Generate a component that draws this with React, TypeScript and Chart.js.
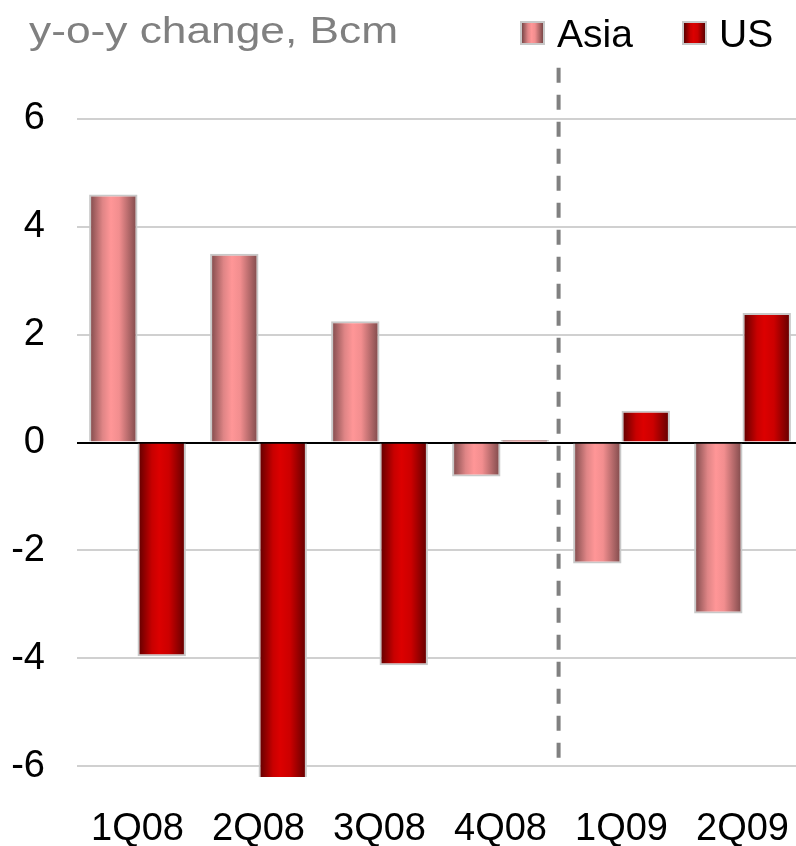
import React, { useEffect, useRef } from "react";
import { Chart, registerables } from "chart.js";

Chart.register(...registerables);

const categories = ["1Q08", "2Q08", "3Q08", "4Q08", "1Q09", "2Q09"];
const asiaValues = [4.6, 3.5, 2.25, -0.63, -2.24, -3.17];
const usValues = [-3.96, -6.4, -4.13, 0.05, 0.59, 2.4];
const yTicks = [-6, -4, -2, 0, 2, 4, 6];
const Y_MIN = -6.2;
const Y_MAX = 7;
const DIVIDER_AT = 3.48; // between 4Q08 and 1Q09
const DIVIDER_FROM = 6.95;
const DIVIDER_TO = -5.87;

const FONT = "'Liberation Sans', Arial, Helvetica, sans-serif";

const ASIA_STOPS: [number, string][] = [
  [0, "#7a4748"],
  [0.28, "#df8586"],
  [0.45, "#ff9697"],
  [0.62, "#f28e8f"],
  [1, "#7a4748"],
];
const US_STOPS: [number, string][] = [
  [0, "#5a0000"],
  [0.3, "#c80000"],
  [0.45, "#dc0000"],
  [0.65, "#cc0000"],
  [1, "#5e0000"],
];

const cssGradient = (stops: [number, string][]) =>
  `linear-gradient(to right, ${stops.map(([p, c]) => `${c} ${p * 100}%`).join(", ")})`;

const gradientPlugin = {
  id: "barGradient",
  beforeDatasetsDraw(chart: any) {
    const ctx = chart.ctx;
    chart.data.datasets.forEach((ds: any, di: number) => {
      const meta = chart.getDatasetMeta(di);
      const stops = di === 0 ? ASIA_STOPS : US_STOPS;
      meta.data.forEach((el: any) => {
        const left = el.x - el.width / 2;
        const g = ctx.createLinearGradient(left, 0, left + el.width, 0);
        stops.forEach(([p, c]) => g.addColorStop(p, c));
        el.options = { ...el.options, backgroundColor: g };
      });
    });
  },
};

const dividerPlugin = {
  id: "divider",
  afterDatasetsDraw(chart: any) {
    const { ctx, scales } = chart;
    const x = scales.x.getPixelForValue(DIVIDER_AT);
    const y1 = scales.y.getPixelForValue(DIVIDER_FROM);
    const y2 = scales.y.getPixelForValue(DIVIDER_TO);
    ctx.save();
    ctx.strokeStyle = "#808080";
    ctx.lineWidth = 4;
    ctx.setLineDash([15, 12]);
    ctx.beginPath();
    ctx.moveTo(x, y1);
    ctx.lineTo(x, y2);
    ctx.stroke();
    ctx.restore();
  },
};

export default function App() {
  const ref = useRef<HTMLCanvasElement>(null);

  useEffect(() => {
    if (!ref.current) return;
    const chart = new Chart(ref.current, {
      type: "bar",
      data: {
        labels: categories,
        datasets: [
          {
            label: "Asia",
            data: asiaValues,
            backgroundColor: "#ff9697",
            borderColor: "#c8c8c8",
            borderWidth: 2,
            clip: 0,
          },
          {
            label: "US",
            data: usValues,
            backgroundColor: "#dc0000",
            borderColor: "#c8c8c8",
            borderWidth: 2,
            clip: 0,
          },
        ],
      },
      options: {
        responsive: false,
        animation: false,
        layout: { padding: { top: 65, right: 12, left: 0, bottom: 0 } },
        datasets: {
          bar: { categoryPercentage: 0.8, barPercentage: 1 },
        },
        plugins: {
          legend: { display: false },
          title: { display: false },
          tooltip: { enabled: false },
        },
        scales: {
          x: {
            grid: { display: false, drawTicks: false },
            border: { display: false },
            ticks: {
              color: "#000",
              font: { family: FONT, size: 38 },
              padding: 30,
              maxRotation: 0,
              autoSkip: false,
            },
            afterFit: (s: any) => {
              s.height = 69;
            },
          },
          y: {
            min: Y_MIN,
            max: Y_MAX,
            afterBuildTicks: (s: any) => {
              s.ticks = yTicks.map((v) => ({ value: v }));
            },
            afterFit: (s: any) => {
              s.width = 77;
            },
            grid: {
              drawTicks: false,
              color: (c: any) => (c.tick && c.tick.value === 0 ? "#000000" : "#d0d0d0"),
              lineWidth: 2,
            },
            border: { display: false },
            ticks: {
              color: "#000",
              font: { family: FONT, size: 38 },
              padding: 32,
            },
          },
        },
      },
      plugins: [gradientPlugin, dividerPlugin],
    });
    return () => chart.destroy();
  }, []);

  const swatch = (stops: [number, string][], left: number) => (
    <div
      style={{
        position: "absolute",
        left,
        top: 21,
        width: 21,
        height: 20,
        border: "2px solid #c8c8c8",
        background: cssGradient(stops),
      }}
    />
  );

  return (
    <div
      style={{
        position: "fixed",
        left: 0,
        top: 0,
        width: 796,
        height: 846,
        overflow: "hidden",
        background: "#fff",
      }}
    >
      <canvas ref={ref} width={820} height={846} style={{ display: "block" }} />
      <div
        style={{
          position: "absolute",
          left: 29,
          top: 13,
          fontFamily: FONT,
          fontSize: 36,
          lineHeight: "36px",
          color: "#808080",
          whiteSpace: "nowrap",
          transform: "scaleX(1.23)",
          transformOrigin: "left top",
        }}
      >
        y-o-y change, Bcm
      </div>
      {swatch(ASIA_STOPS, 520)}
      <div
        style={{
          position: "absolute",
          left: 557,
          top: 14,
          fontFamily: FONT,
          fontSize: 39,
          lineHeight: "39px",
          color: "#000",
          whiteSpace: "nowrap",
        }}
      >
        Asia
      </div>
      {swatch(US_STOPS, 682)}
      <div
        style={{
          position: "absolute",
          left: 719,
          top: 14,
          fontFamily: FONT,
          fontSize: 39,
          lineHeight: "39px",
          color: "#000",
          whiteSpace: "nowrap",
        }}
      >
        US
      </div>
    </div>
  );
}
